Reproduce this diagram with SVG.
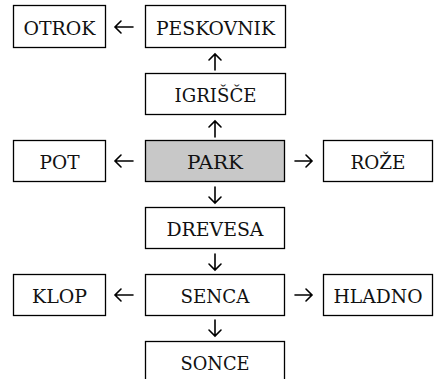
<svg xmlns="http://www.w3.org/2000/svg" width="437" height="379" viewBox="0 0 437 379">
<style>
.box{fill:#ffffff;stroke:#000;stroke-width:1.3}
.hl{fill:#c8c8c8}
.t{font-family:"DejaVu Serif","Liberation Serif",serif;font-size:19px;fill:#111;text-anchor:middle}
.a{fill:none;stroke:#000;stroke-width:1.6;stroke-linecap:round;stroke-linejoin:miter}
</style>
<rect width="437" height="379" fill="#fff"/>
<g id="otrok"><rect class="box" x="13.5" y="5.5" width="92" height="42"/><text class="t" x="59.5" y="34.5" textLength="72" lengthAdjust="spacingAndGlyphs">OTROK</text></g>
<g id="peskovnik"><rect class="box" x="145.5" y="5.5" width="140" height="42"/><text class="t" x="215.5" y="34.5" textLength="119" lengthAdjust="spacingAndGlyphs">PESKOVNIK</text></g>
<g id="igrisce"><rect class="box" x="145.5" y="73.5" width="140" height="41"/><text class="t" x="215.5" y="101.5" textLength="82" lengthAdjust="spacingAndGlyphs">IGRIŠČE</text></g>
<g id="pot"><rect class="box" x="13.5" y="140.5" width="92" height="41"/><text class="t" x="59.5" y="168.5" textLength="40" lengthAdjust="spacingAndGlyphs">POT</text></g>
<g id="park"><rect class="box hl" x="145.5" y="140.5" width="139" height="41"/><text class="t" x="215" y="168.5" textLength="56" lengthAdjust="spacingAndGlyphs">PARK</text></g>
<g id="roze"><rect class="box" x="323.5" y="140.5" width="109" height="41"/><text class="t" x="378" y="168.5" textLength="55" lengthAdjust="spacingAndGlyphs">ROŽE</text></g>
<g id="drevesa"><rect class="box" x="145.5" y="207.5" width="139" height="41"/><text class="t" x="215" y="235.5" textLength="97" lengthAdjust="spacingAndGlyphs">DREVESA</text></g>
<g id="klop"><rect class="box" x="13.5" y="274.5" width="92" height="41"/><text class="t" x="59.5" y="302.5" textLength="55" lengthAdjust="spacingAndGlyphs">KLOP</text></g>
<g id="senca"><rect class="box" x="145.5" y="274.5" width="139" height="41"/><text class="t" x="215" y="302.5" textLength="69" lengthAdjust="spacingAndGlyphs">SENCA</text></g>
<g id="hladno"><rect class="box" x="323.5" y="274.5" width="109" height="41"/><text class="t" x="378" y="302.5" textLength="89" lengthAdjust="spacingAndGlyphs">HLADNO</text></g>
<g id="sonce"><rect class="box" x="145.5" y="341.5" width="139" height="41"/><text class="t" x="215" y="369.5" textLength="69" lengthAdjust="spacingAndGlyphs">SONCE</text></g>
<g id="connectors">
<path class="a" d="M133 27H115M121 21L115 27L121 33"/>
<path class="a" d="M215 70V54M209 60L215 54L221 60"/>
<path class="a" d="M215 137V121M209 127L215 121L221 127"/>
<path class="a" d="M133 161H115M121 155L115 161L121 167"/>
<path class="a" d="M295 161H312M306 155L312 161L306 167"/>
<path class="a" d="M215 187V203M209 197L215 203L221 197"/>
<path class="a" d="M215 254V270M209 264L215 270L221 264"/>
<path class="a" d="M133 295H115M121 289L115 295L121 301"/>
<path class="a" d="M295 295H312M306 289L312 295L306 301"/>
<path class="a" d="M215 320V336M209 330L215 336L221 330"/>
</g>
</svg>
